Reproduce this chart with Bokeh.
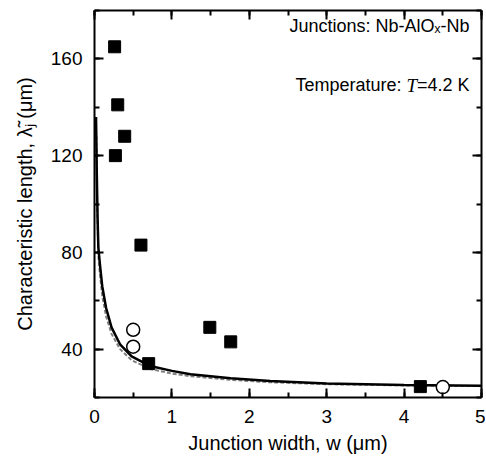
from bokeh.plotting import figure
from bokeh.models import LinearAxis, SingleIntervalTicker, Label, CustomJSTickFormatter
from bokeh.embed import file_html
from bokeh.resources import INLINE

# ---- data ----
w_squares = [0.26, 0.30, 0.39, 0.27, 0.60, 0.70, 1.49, 1.76, 4.21]
lam_squares = [165, 141, 128, 120, 83, 34, 49, 43, 24.5]

w_circles = [0.50, 0.50, 4.50]
lam_circles = [48, 41, 24.3]

w_fit = [0.02, 0.03, 0.04, 0.05, 0.07, 0.10, 0.15, 0.22, 0.33, 0.48, 0.72,
         1.00, 1.24, 1.76, 2.27, 3.00, 4.00, 5.00]
lam_fit = [136, 112, 94, 82, 75, 66, 57, 49, 42, 37, 33,
           31, 29.6, 28, 26.8, 25.8, 25.2, 24.9]

w_fit2 = [0.025, 0.035, 0.05, 0.07, 0.10, 0.15, 0.22, 0.33, 0.48, 0.72,
          1.00, 1.24, 1.76, 2.27, 3.00, 4.00, 5.00]
lam_fit2 = [128, 98, 78.5, 71, 62, 53.5, 46.3, 40, 35.4, 31.8,
            29.9, 28.8, 27.3, 26.3, 25.5, 25.0, 24.7]

x_ticks_interval = 1
y_ticks_interval = 40

FONT = "Liberation Sans"
FW, FH = 387, 387

p = figure(frame_width=FW, frame_height=FH, x_range=(0, 5), y_range=(20, 180),
           output_backend="svg", toolbar_location=None,
           min_border_left=94, min_border_top=10, min_border_right=4,
           min_border_bottom=20)
p.grid.visible = False
p.outline_line_color = None
p.background_fill_color = "white"
p.border_fill_color = "white"

def style_axis(ax, labels=True):
    ax.axis_line_width = 2
    ax.axis_line_color = "black"
    ax.major_tick_in = 9
    ax.major_tick_out = 0
    ax.minor_tick_in = 5
    ax.minor_tick_out = 0
    ax.major_tick_line_width = 2
    ax.minor_tick_line_width = 2
    ax.major_tick_line_color = "black"
    ax.minor_tick_line_color = "black"
    if labels:
        ax.major_label_text_font = FONT
        ax.major_label_text_font_size = "19px"
        ax.major_label_text_color = "black"
        ax.axis_label_text_font = FONT
        ax.axis_label_text_font_size = "20px"
        ax.axis_label_text_font_style = "normal"
        ax.axis_label_text_color = "black"
    else:
        ax.formatter = CustomJSTickFormatter(code="return ''")
        ax.major_label_standoff = 0

xt = SingleIntervalTicker(interval=x_ticks_interval, num_minor_ticks=2)
yt = SingleIntervalTicker(interval=y_ticks_interval, num_minor_ticks=2)

p.xaxis.ticker = xt
p.yaxis.ticker = yt
style_axis(p.xaxis[0])
style_axis(p.yaxis[0])
p.xaxis.axis_label = "Junction width, w (\u03bcm)"
p.yaxis.axis_label = "Characteristic length, \u03bb\u0303\u2c7c (\u03bcm)"
p.xaxis.major_label_standoff = 12
p.xaxis.axis_label_standoff = 6
p.yaxis.major_label_standoff = 12
p.yaxis.axis_label_standoff = 12

top = LinearAxis(ticker=SingleIntervalTicker(interval=x_ticks_interval, num_minor_ticks=2))
right = LinearAxis(ticker=SingleIntervalTicker(interval=y_ticks_interval, num_minor_ticks=2))
style_axis(top, labels=False)
style_axis(right, labels=False)
p.add_layout(top, "above")
p.add_layout(right, "right")

# curves
p.line(w_fit2, lam_fit2, line_color="#808080", line_width=2, line_dash="4 2")
p.line(w_fit, lam_fit, line_color="black", line_width=2.5)

# markers
p.scatter(w_squares, lam_squares, marker="square", size=12,
          fill_color="black", line_color="black")
p.scatter(w_circles, lam_circles, marker="circle", size=13,
          fill_color="white", line_color="black", line_width=1.5)

# annotations (positions converted from pixels to data units)
pxx = 5 / FW
x_end = (469 - 94) * pxx
ANN = "18px"
y1, y2 = 173.5, 149.0
p.add_layout(Label(x=x_end, y=y1, text="Junctions: Nb-AlO\u2093-Nb",
                   text_align="right", text_baseline="alphabetic",
                   text_font=FONT, text_font_size=ANN, text_color="black"))
w_num = 52.5
w_T = 10.5
p.add_layout(Label(x=x_end, y=y2, text="=4.2 K",
                   text_align="right", text_baseline="alphabetic",
                   text_font=FONT, text_font_size=ANN, text_color="black"))
p.add_layout(Label(x=x_end - w_num * pxx, y=y2, text="T",
                   text_align="right", text_baseline="alphabetic",
                   text_font="Liberation Serif", text_font_style="italic",
                   text_font_size="19px", text_color="black"))
p.add_layout(Label(x=x_end - (w_num + w_T + 5) * pxx, y=y2, text="Temperature:",
                   text_align="right", text_baseline="alphabetic",
                   text_font=FONT, text_font_size=ANN, text_color="black"))

open("out.html", "w").write(file_html(p, INLINE))
